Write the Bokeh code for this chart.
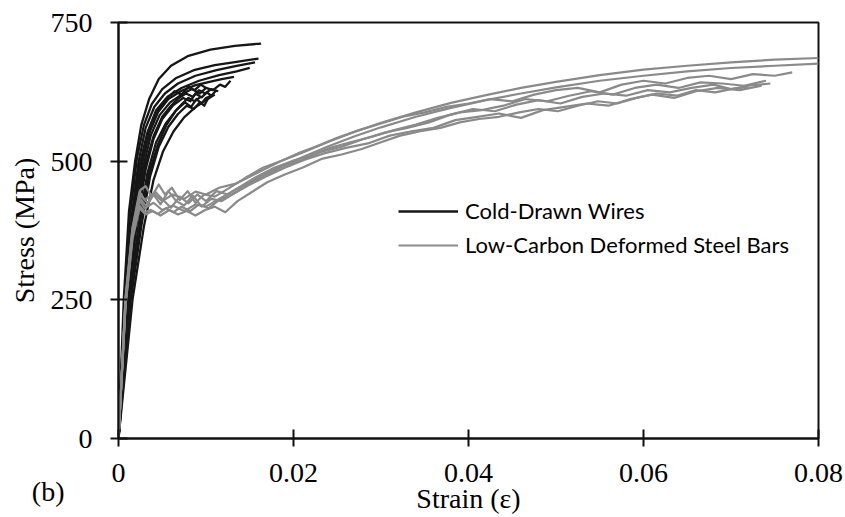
from bokeh.plotting import figure
from bokeh.models import Range1d, FixedTicker, Legend, LegendItem
from bokeh.embed import file_html
from bokeh.resources import INLINE

# ---------------- data ----------------
x_ticks = [0, 0.02, 0.04, 0.06, 0.08]
x_tick_labels = ["0", "0.02", "0.04", "0.06", "0.08"]
y_ticks = [0, 250, 500, 750]
y_tick_labels = ["0", "250", "500", "750"]
panel_tag = "(b)"
x_title = "Strain (ε)"
y_title = "Stress (MPa)"

# Cold-drawn wires (strain, stress MPa)
cdw1_strain = [0, 0.0006, 0.0012, 0.0019, 0.0026, 0.0035, 0.0046, 0.0060, 0.0080, 0.0105, 0.0133, 0.0163]
cdw1_stress = [0, 250, 410, 500, 565, 612, 648, 672, 690, 701, 708, 712]
cdw2_strain = [0, 0.0007, 0.0013, 0.0021, 0.0029, 0.0038, 0.0050, 0.0066, 0.0086, 0.0110, 0.0135, 0.0160]
cdw2_stress = [0, 250, 400, 505, 565, 603, 630, 650, 664, 673, 679, 685]
cdw3_strain = [0, 0.0008, 0.0015, 0.0023, 0.0031, 0.0041, 0.0053, 0.0068, 0.0088, 0.0112, 0.0135, 0.0156]
cdw3_stress = [0, 250, 400, 500, 560, 598, 622, 640, 654, 664, 672, 678]
cdw4_strain = [0, 0.0008, 0.0016, 0.0024, 0.0033, 0.0043, 0.0056, 0.0072, 0.0092, 0.0115, 0.0135, 0.0150]
cdw4_stress = [0, 250, 395, 492, 552, 592, 616, 632, 645, 655, 662, 668]
cdw5_strain = [0, 0.0009, 0.0017, 0.0026, 0.0035, 0.0045, 0.0057, 0.0072, 0.0088, 0.0104, 0.0118, 0.0132]
cdw5_stress = [0, 250, 395, 490, 550, 588, 612, 627, 637, 643, 648, 652]
cdw6_strain = [0, 0.0010, 0.0019, 0.0028, 0.0037, 0.0047, 0.0059, 0.0072, 0.0084, 0.0093, 0.0100, 0.0108, 0.0116, 0.0122, 0.0128]
cdw6_stress = [0, 250, 392, 488, 547, 583, 606, 620, 630, 622, 632, 628, 638, 634, 645]
cdw7_strain = [0, 0.0011, 0.0021, 0.0031, 0.0040, 0.0050, 0.0062, 0.0074, 0.0082, 0.0088, 0.0095, 0.0101, 0.0106, 0.0112]
cdw7_stress = [0, 250, 390, 485, 540, 576, 600, 614, 608, 622, 615, 624, 618, 628]
cdw8_strain = [0, 0.0012, 0.0023, 0.0033, 0.0043, 0.0054, 0.0066, 0.0076, 0.0083, 0.0089, 0.0095, 0.0100, 0.0106]
cdw8_stress = [0, 250, 385, 478, 534, 568, 592, 606, 598, 612, 604, 614, 618]
cdw9_strain = [0, 0.0014, 0.0026, 0.0036, 0.0046, 0.0057, 0.0068, 0.0078, 0.0086, 0.0093, 0.0098, 0.0102]
cdw9_stress = [0, 250, 382, 472, 526, 562, 585, 600, 594, 606, 600, 612]
cdw10_strain = [0, 0.0016, 0.0029, 0.0040, 0.0051, 0.0063, 0.0075, 0.0087, 0.0098, 0.0110]
cdw10_stress = [0, 250, 382, 466, 518, 554, 579, 596, 608, 620]
cdw11_strain = [0, 0.0009, 0.0018, 0.0027, 0.0036, 0.0046, 0.0055, 0.0064, 0.0072, 0.0080, 0.0087, 0.0094, 0.0100]
cdw11_stress = [0, 250, 405, 500, 556, 594, 612, 626, 620, 634, 628, 638, 632]
cdw12_strain = [0, 0.0010, 0.0020, 0.0030, 0.0040, 0.0050, 0.0060, 0.0069, 0.0077, 0.0085, 0.0092, 0.0099, 0.0106, 0.0114]
cdw12_stress = [0, 250, 400, 490, 545, 580, 600, 614, 622, 616, 628, 622, 630, 626]
cdw13_strain = [0, 0.0013, 0.0025, 0.0035, 0.0045, 0.0055, 0.0065, 0.0073, 0.0080, 0.0087, 0.0094]
cdw13_stress = [0, 250, 392, 478, 530, 566, 590, 604, 614, 608, 616]

# Low-carbon deformed steel bars (strain, stress MPa)
lcb_grid_a = [0, 0.0008, 0.0016, 0.0024, 0.0030, 0.0040, 0.0050, 0.0062, 0.0075, 0.0088, 0.0100, 0.0115,
              0.0135, 0.0160, 0.0185, 0.0210, 0.0240, 0.0270, 0.0300, 0.0340, 0.0380, 0.0420, 0.0460,
              0.0500, 0.0550, 0.0600, 0.0650, 0.0700, 0.0750, 0.0800]
lcb1_strain = lcb_grid_a
lcb1_stress = [0, 255, 380, 445, 430, 442, 428, 440, 432, 445, 440, 452, 460, 480, 500, 515, 535, 553, 569,
               588, 605, 619, 632, 643, 655, 665, 672, 678, 683, 686]
lcb2_strain = lcb_grid_a
lcb2_stress = [0, 245, 370, 430, 415, 425, 412, 420, 410, 422, 418, 432, 450, 470, 490, 507, 527, 545, 561,
               580, 596, 610, 622, 633, 645, 654, 662, 668, 672, 676]
lcb3_strain = [0, 0.0008, 0.0016, 0.0025, 0.0031, 0.0038, 0.0046, 0.0053, 0.0061, 0.0070, 0.0079, 0.0088,
               0.0098, 0.0110, 0.0125, 0.0145, 0.0165, 0.0185, 0.0205, 0.0225, 0.0250, 0.0275, 0.0300,
               0.0325, 0.0350, 0.0375, 0.0400, 0.0425, 0.0450, 0.0475, 0.0500, 0.0525, 0.0550, 0.0575,
               0.0600, 0.0625, 0.0650, 0.0675, 0.0700, 0.0725, 0.0750, 0.0770]
lcb3_stress = [0, 250, 378, 448, 455, 436, 458, 440, 452, 430, 446, 425, 440, 436, 450, 470, 488, 500, 514,
               526, 542, 556, 568, 580, 588, 598, 604, 612, 608, 620, 628, 632, 624, 638, 645, 640, 650,
               654, 648, 657, 654, 660]
lcb4_strain = [0, 0.0008, 0.0016, 0.0025, 0.0032, 0.0040, 0.0048, 0.0057, 0.0066, 0.0075, 0.0085, 0.0095,
               0.0106, 0.0118, 0.0132, 0.0150, 0.0170, 0.0190, 0.0210, 0.0230, 0.0255, 0.0280, 0.0305,
               0.0330, 0.0355, 0.0380, 0.0405, 0.0430, 0.0455, 0.0480, 0.0505, 0.0530, 0.0555, 0.0580,
               0.0605, 0.0630, 0.0655, 0.0680, 0.0700, 0.0720, 0.0745]
lcb4_stress = [0, 245, 370, 432, 418, 440, 422, 446, 428, 420, 438, 418, 432, 428, 442, 460, 476, 492, 502,
               516, 526, 540, 552, 560, 570, 584, 594, 590, 602, 610, 604, 616, 622, 618, 628, 624, 632,
               638, 630, 636, 640]
lcb5_strain = [0, 0.0008, 0.0016, 0.0024, 0.0030, 0.0037, 0.0045, 0.0054, 0.0063, 0.0072, 0.0082, 0.0092,
               0.0103, 0.0115, 0.0130, 0.0148, 0.0168, 0.0190, 0.0212, 0.0235, 0.0260, 0.0285, 0.0310,
               0.0335, 0.0360, 0.0385, 0.0410, 0.0435, 0.0460, 0.0485, 0.0510, 0.0535, 0.0560, 0.0585,
               0.0610, 0.0635, 0.0660, 0.0685, 0.0710, 0.0735]
lcb5_stress = [0, 240, 365, 420, 408, 412, 405, 415, 408, 418, 410, 422, 415, 430, 440, 456, 472, 488, 502,
               514, 524, 532, 546, 554, 560, 574, 580, 586, 578, 592, 598, 604, 600, 612, 620, 614, 626,
               632, 628, 636]
lcb6_strain = [0, 0.0008, 0.0016, 0.0024, 0.0031, 0.0039, 0.0048, 0.0058, 0.0068, 0.0078, 0.0088, 0.0099,
               0.0110, 0.0122, 0.0136, 0.0152, 0.0170, 0.0190, 0.0210, 0.0232, 0.0255, 0.0278, 0.0300,
               0.0322, 0.0345, 0.0368, 0.0390, 0.0412, 0.0435, 0.0458, 0.0480, 0.0502, 0.0525, 0.0548,
               0.0570, 0.0592, 0.0615, 0.0638, 0.0660, 0.0682, 0.0700, 0.0720]
lcb6_stress = [0, 238, 360, 415, 404, 410, 402, 412, 404, 410, 402, 412, 418, 408, 428, 444, 462, 476, 488,
               504, 512, 522, 534, 546, 554, 560, 570, 576, 580, 588, 594, 590, 600, 608, 604, 614, 622,
               618, 628, 624, 630, 634]
lcb7_strain = [0, 0.0008, 0.0016, 0.0025, 0.0033, 0.0042, 0.0051, 0.0060, 0.0070, 0.0080, 0.0090, 0.0100,
               0.0112, 0.0125, 0.0140, 0.0158, 0.0178, 0.0198, 0.0220, 0.0242, 0.0265, 0.0290, 0.0315,
               0.0340, 0.0365, 0.0390, 0.0415, 0.0440, 0.0465, 0.0490, 0.0515, 0.0540, 0.0565, 0.0590,
               0.0615, 0.0640, 0.0665, 0.0690, 0.0715, 0.0740]
lcb7_stress = [0, 248, 372, 438, 425, 445, 430, 416, 436, 424, 440, 428, 446, 440, 455, 472, 488, 500, 510,
               524, 534, 544, 556, 566, 578, 588, 592, 600, 612, 608, 618, 626, 620, 632, 638, 632, 642,
               640, 636, 645]

cold_drawn = [
    (cdw1_strain, cdw1_stress), (cdw2_strain, cdw2_stress), (cdw3_strain, cdw3_stress),
    (cdw4_strain, cdw4_stress), (cdw5_strain, cdw5_stress), (cdw6_strain, cdw6_stress),
    (cdw7_strain, cdw7_stress), (cdw8_strain, cdw8_stress), (cdw9_strain, cdw9_stress),
    (cdw10_strain, cdw10_stress), (cdw11_strain, cdw11_stress), (cdw12_strain, cdw12_stress),
    (cdw13_strain, cdw13_stress),
]
low_carbon = [
    (lcb1_strain, lcb1_stress), (lcb2_strain, lcb2_stress), (lcb3_strain, lcb3_stress),
    (lcb4_strain, lcb4_stress), (lcb5_strain, lcb5_stress), (lcb6_strain, lcb6_stress),
    (lcb7_strain, lcb7_stress),
]

BLACK = "#161616"
GRAY = "#8a8a8a"
SERIF = "Liberation Serif"
NBSP = "\u00a0"

p = figure(width=845, height=517, output_backend="svg", toolbar_location=None,
           x_range=Range1d(0, 0.08), y_range=Range1d(0, 750),
           min_border_left=118, min_border_right=27, min_border_top=22, min_border_bottom=79)
p.background_fill_color = "white"
p.border_fill_color = "white"
p.xgrid.visible = False
p.ygrid.visible = False
p.outline_line_color = "#111111"
p.outline_line_width = 2

black_renderers = []
for sx, sy in cold_drawn:
    r = p.line(sx, sy, line_color=BLACK, line_width=2.3, line_join="round")
    black_renderers.append(r)
gray_renderers = []
for sx, sy in low_carbon:
    r = p.line(sx, sy, line_color=GRAY, line_width=2.2, line_join="round")
    gray_renderers.append(r)

for ax in (p.xaxis[0], p.yaxis[0]):
    ax.axis_line_color = "#111111"
    ax.axis_line_width = 2
    ax.major_tick_line_color = "#111111"
    ax.major_tick_line_width = 2
    ax.major_tick_in = 9
    ax.major_tick_out = 8
    ax.minor_tick_line_color = None
    ax.major_label_text_font = SERIF
    ax.major_label_text_font_size = "28px"
    ax.major_label_text_color = "black"
    ax.axis_label_text_font = SERIF
    ax.axis_label_text_font_size = "28px"
    ax.axis_label_text_font_style = "normal"
    ax.axis_label_text_color = "black"

p.xaxis.ticker = FixedTicker(ticks=x_ticks)
p.xaxis.major_label_overrides = {t: l for t, l in zip(x_ticks, x_tick_labels)}
p.xaxis.major_label_standoff = 17
p.xaxis.axis_label = x_title
p.xaxis.axis_label_standoff = -2

# the panel tag "(b)" hangs below the y-axis "0" label (outside the frame)
y_overrides = {t: l for t, l in zip(y_ticks, y_tick_labels)}
y_overrides[0] = "\n" + y_tick_labels[0] + "\n" + panel_tag + NBSP * 4
p.yaxis.ticker = FixedTicker(ticks=y_ticks)
p.yaxis.major_label_overrides = y_overrides
p.yaxis.major_label_text_line_height = 1.7
p.yaxis.major_label_standoff = 18
p.yaxis.axis_label = y_title
p.yaxis.axis_label_standoff = -11

legend = Legend(items=[
    LegendItem(label="Cold-Drawn Wires", renderers=[black_renderers[0]]),
    LegendItem(label="Low-Carbon Deformed Steel Bars", renderers=[gray_renderers[0]]),
], location=(280, 180))
legend.glyph_width = 60
legend.glyph_height = 20
legend.label_height = 20
legend.label_standoff = 7
legend.spacing = 7
legend.padding = 0
legend.margin = 0
legend.border_line_alpha = 0
legend.background_fill_alpha = 0
legend.label_text_font = "Lato"
legend.label_text_font_size = "22px"
legend.label_text_color = "black"
p.add_layout(legend)

open("out.html", "w").write(file_html(p, INLINE))
